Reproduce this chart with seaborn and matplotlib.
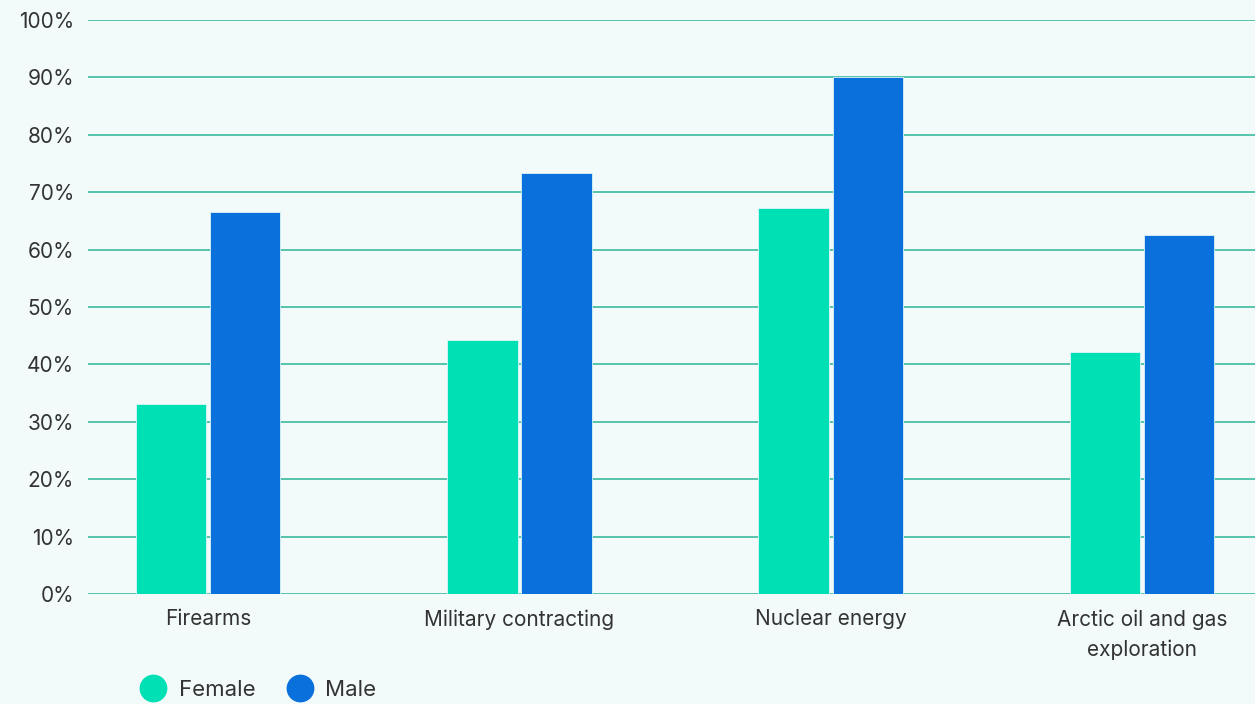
import matplotlib
matplotlib.use("Agg")
import matplotlib.pyplot as plt
from matplotlib.lines import Line2D
import pandas as pd
import seaborn as sns

categories = ["Firearms", "Military contracting", "Nuclear energy",
              "Arctic oil and gas\nexploration"]
female = [33.1, 44.3, 67.3, 42.2]
male = [66.6, 73.3, 90.0, 62.5]
series = ["Female", "Male"]
yticks = [0, 10, 20, 30, 40, 50, 60, 70, 80, 90, 100]

bg = "#F2FBFA"
grid_col = "#2BB596"
colors = {"Female": "#00E0B5", "Male": "#0A70DC"}
text_col = "#333333"

df = pd.DataFrame({
    "category": categories * 2,
    "gender": ["Female"] * 4 + ["Male"] * 4,
    "value": female + male,
})

sns.set_theme(style="white")
plt.rcParams["font.family"] = ["Inter", "DejaVu Sans"]

fig = plt.figure(figsize=(12.55, 7.04), dpi=100, facecolor=bg)
ax = fig.add_axes([88 / 1255, 1 - 594 / 704, 1 - 88 / 1255, (594 - 20) / 704])
ax.set_facecolor(bg)

sns.barplot(data=df, x="category", y="value", hue="gender", order=categories,
            hue_order=series, palette=colors, saturation=1, width=0.476, gap=0.05,
            edgecolor="#DDF3F8", linewidth=0.6, ax=ax, legend=False, zorder=3)

ax.set_ylim(0, 100)
ax.set_xlim(-0.386, 3.363)
ax.set_yticks(yticks)
ax.set_yticklabels([f"{v}%" for v in yticks])
ax.yaxis.grid(True, color=grid_col, linewidth=1.1)
ax.set_axisbelow(True)
for s in ax.spines.values():
    s.set_visible(False)
ax.tick_params(axis="both", length=0, labelsize=15, labelcolor=text_col)
ax.tick_params(axis="y", pad=10)
ax.tick_params(axis="x", pad=11)
for lbl in ax.get_xticklabels():
    lbl.set_linespacing(1.6)
ax.set_xlabel("")
ax.set_ylabel("")

handles = [Line2D([], [], marker="o", linestyle="", markersize=19,
                  markerfacecolor=colors[s], markeredgecolor=colors[s], label=s)
           for s in series]
fig.legend(handles=handles, loc="center left", bbox_to_anchor=(111 / 1255, 1 - 690 / 704),
           ncol=2, frameon=False, fontsize=16, handletextpad=0.15, columnspacing=1.0,
           labelcolor=text_col)

fig.savefig("out.png", dpi=100, facecolor=bg)
